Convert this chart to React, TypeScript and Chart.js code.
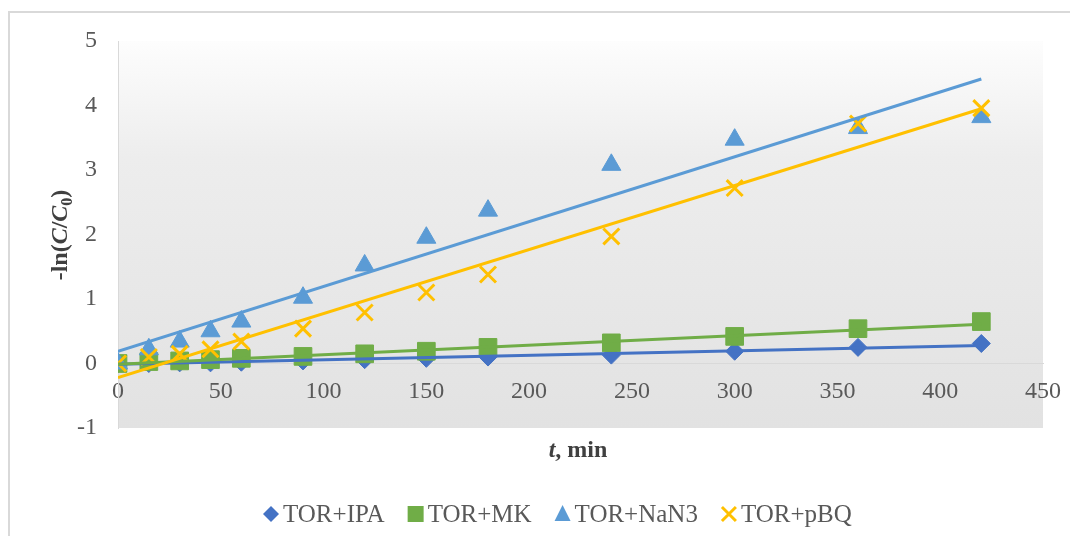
import React, { useEffect, useRef } from 'react';
import { Chart, registerables } from 'chart.js';

Chart.register(...registerables);

const FF = "'Liberation Serif', 'Times New Roman', serif";

const times = [0, 15, 30, 45, 60, 90, 120, 150, 180, 240, 300, 360, 420];
const ipa = [0, 0.0, 0.01, 0.01, 0.02, 0.04, 0.06, 0.08, 0.1, 0.13, 0.19, 0.25, 0.31];
const mk = [0, 0.03, 0.04, 0.06, 0.08, 0.11, 0.15, 0.19, 0.25, 0.32, 0.42, 0.54, 0.65];
const nan3 = [0, 0.22, 0.34, 0.5, 0.65, 1.02, 1.52, 1.95, 2.37, 3.08, 3.47, 3.65, 3.82];
const pbq = [0, 0.1, 0.15, 0.22, 0.34, 0.54, 0.79, 1.1, 1.38, 1.97, 2.72, 3.72, 3.96];

const trendX = [0, 420];
const ipaTrend = [-0.01, 0.28];
const mkTrend = [-0.01, 0.61];
const nan3Trend = [0.19, 4.41];
const pbqTrend = [-0.22, 3.95];

const seriesNames = ['TOR+IPA', 'TOR+MK', 'TOR+NaN3', 'TOR+pBQ'];
const seriesColors = ['#4472C4', '#70AD47', '#5B9BD5', '#FFC000'];

const xMin = 0;
const xMax = 450;
const xStep = 50;
const yMin = -1;
const yMax = 5;
const yStep = 1;

type Part = { t: string; f: string; dy?: number };

function drawParts(ctx: CanvasRenderingContext2D, parts: Part[], cx: number, y: number) {
  let total = 0;
  const widths = parts.map((p) => {
    ctx.font = p.f;
    const w = ctx.measureText(p.t).width;
    total += w;
    return w;
  });
  let x = cx - total / 2;
  ctx.textAlign = 'left';
  ctx.textBaseline = 'alphabetic';
  parts.forEach((p, i) => {
    ctx.font = p.f;
    ctx.fillText(p.t, x, y + (p.dy || 0));
    x += widths[i];
  });
}

function drawMarker(ctx: CanvasRenderingContext2D, kind: number, cx: number, cy: number, color: string) {
  ctx.save();
  ctx.fillStyle = color;
  ctx.strokeStyle = color;
  ctx.beginPath();
  if (kind === 0) {
    ctx.moveTo(cx, cy - 8);
    ctx.lineTo(cx + 8, cy);
    ctx.lineTo(cx, cy + 8);
    ctx.lineTo(cx - 8, cy);
    ctx.closePath();
    ctx.fill();
  } else if (kind === 1) {
    ctx.rect(cx - 8, cy - 8, 16, 16);
    ctx.fill();
  } else if (kind === 2) {
    ctx.moveTo(cx, cy - 9);
    ctx.lineTo(cx + 8, cy + 7);
    ctx.lineTo(cx - 8, cy + 7);
    ctx.closePath();
    ctx.fill();
  } else {
    ctx.lineWidth = 3;
    ctx.moveTo(cx - 7, cy - 7);
    ctx.lineTo(cx + 7, cy + 7);
    ctx.moveTo(cx + 7, cy - 7);
    ctx.lineTo(cx - 7, cy + 7);
    ctx.stroke();
  }
  ctx.restore();
}

export default function App() {
  const ref = useRef<HTMLCanvasElement>(null);

  useEffect(() => {
    const canvas = ref.current;
    if (!canvas) return;
    const pts = (xs: number[], ys: number[]) => xs.map((x, i) => ({ x, y: ys[i] }));

    const bgPlugin = {
      id: 'plotBg',
      beforeDraw(chart: any) {
        const { ctx, chartArea: a } = chart;
        const g = ctx.createLinearGradient(0, a.top, 0, a.bottom);
        g.addColorStop(0, '#fdfdfd');
        g.addColorStop(0.3, '#ededed');
        g.addColorStop(1, '#e2e2e2');
        ctx.save();
        ctx.fillStyle = g;
        ctx.fillRect(a.left, a.top, a.right - a.left, a.bottom - a.top);
        ctx.restore();
      },
    };

    const decoPlugin = {
      id: 'deco',
      afterDraw(chart: any) {
        const ctx: CanvasRenderingContext2D = chart.ctx;
        ctx.save();
        ctx.fillStyle = '#404040';
        drawParts(
          ctx,
          [
            { t: 't', f: `italic bold 24px ${FF}` },
            { t: ', min', f: `bold 24px ${FF}` },
          ],
          568,
          444
        );
        ctx.save();
        ctx.translate(57, 222);
        ctx.rotate(-Math.PI / 2);
        drawParts(
          ctx,
          [
            { t: '-ln(', f: `bold 24px ${FF}` },
            { t: 'C', f: `italic bold 24px ${FF}` },
            { t: '/', f: `bold 24px ${FF}` },
            { t: 'C', f: `italic bold 24px ${FF}` },
            { t: '0', f: `bold 16px ${FF}`, dy: 5 },
            { t: ')', f: `bold 24px ${FF}` },
          ],
          0,
          0
        );
        ctx.restore();

        // legend
        let cur = 253;
        const cy = 501;
        seriesNames.forEach((name, i) => {
          drawMarker(ctx, i, cur + 8, cy, seriesColors[i]);
          ctx.fillStyle = '#595959';
          ctx.font = `25px ${FF}`;
          ctx.textAlign = 'left';
          ctx.textBaseline = 'alphabetic';
          ctx.fillText(name, cur + 20, 509);
          cur += 20 + ctx.measureText(name).width + 23;
        });
        ctx.restore();
      },
    };

    const markerStyles = ['rectRot', 'rect', 'triangle', 'crossRot'];
    const markerRadius = [9, 12.5, 11, 11.3];
    const values = [ipa, mk, nan3, pbq];
    const trends = [ipaTrend, mkTrend, nan3Trend, pbqTrend];

    const markerSets = values.map((vals, i) => ({
      label: seriesNames[i],
      data: pts(times, vals),
      showLine: false,
      pointStyle: markerStyles[i],
      pointRadius: markerRadius[i],
      pointBackgroundColor: seriesColors[i],
      pointBorderColor: seriesColors[i],
      pointBorderWidth: i === 3 ? 3 : 1,
      order: 8 - i,
    }));
    const trendSets = trends.map((tv, i) => ({
      label: seriesNames[i] + ' trend',
      data: pts(trendX, tv),
      showLine: true,
      borderColor: seriesColors[i],
      borderWidth: 3,
      pointRadius: 0,
      fill: false,
      order: 4 - i,
    }));

    const chart = new Chart(canvas, {
      type: 'scatter',
      data: { datasets: [...markerSets, ...trendSets] as any },
      plugins: [bgPlugin, decoPlugin],
      options: {
        animation: false,
        responsive: false,
        devicePixelRatio: 1,
        layout: { padding: { top: 28, right: 27, bottom: 111, left: 0 } },
        font: { family: FF, size: 24 },
        plugins: {
          legend: { display: false },
          tooltip: { enabled: false },
          title: { display: false },
        },
        scales: {
          x: {
            type: 'linear',
            position: { y: 0 } as any,
            min: xMin,
            max: xMax,
            grid: { display: false, drawTicks: false },
            border: { display: true, color: '#d9d9d9', width: 1 },
            ticks: {
              stepSize: xStep,
              autoSkip: false,
              maxRotation: 0,
              padding: 14,
              color: '#595959',
              font: { family: FF, size: 24 },
            },
            afterFit(scale: any) {
              scale.paddingLeft = 0;
              scale.paddingRight = 0;
              scale.paddingTop = 0;
              scale.paddingBottom = 0;
            },
          },
          y: {
            type: 'linear',
            position: 'left',
            min: yMin,
            max: yMax,
            grid: { display: false, drawTicks: false },
            border: { display: true, color: '#d9d9d9', width: 1 },
            ticks: {
              stepSize: yStep,
              padding: 21,
              color: '#595959',
              font: { family: FF, size: 24 },
            },
            afterFit(scale: any) {
              scale.width = 108;
              scale.paddingTop = 0;
              scale.paddingBottom = 0;
            },
          },
        },
      } as any,
    });

    return () => chart.destroy();
  }, []);

  return (
    <div
      style={{
        position: 'relative',
        top: 3,
        width: 1062,
        height: 528,
        boxSizing: 'border-box',
        borderTop: '2px solid #d9d9d9',
        borderLeft: '2px solid #d9d9d9',
        background: '#ffffff',
      }}
    >
      <canvas ref={ref} width={1060} height={526} style={{ display: 'block', width: 1060, height: 526 }} />
    </div>
  );
}
